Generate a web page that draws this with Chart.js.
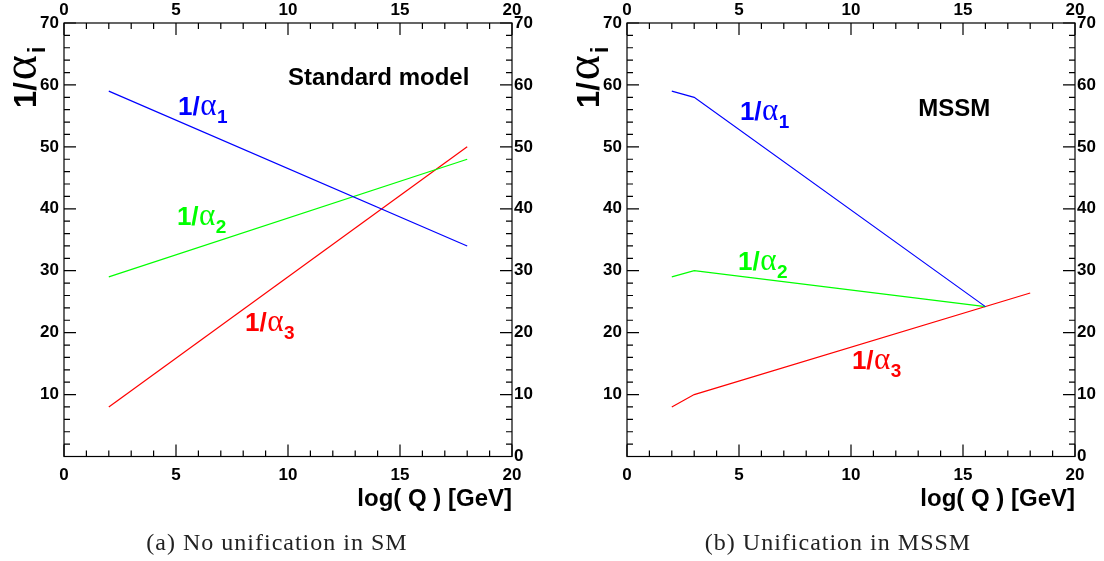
<!DOCTYPE html>
<html>
<head>
<meta charset="utf-8">
<script src="https://cdn.jsdelivr.net/npm/chart.js@4.4.1/dist/chart.umd.min.js"></script>
<style>
  html, body { margin: 0; padding: 0; background: #fff; width: 1104px; height: 561px; overflow: hidden; }
  .panel { position: absolute; top: 0; width: 552px; height: 561px; }
  canvas { display: block; }
</style>
</head>
<body>
<div class="panel" style="left:0"><canvas id="sm" width="552" height="561"></canvas></div>
<div class="panel" style="left:552px"><canvas id="mssm" width="552" height="561"></canvas></div>
<script>
// Running inverse couplings 1/alpha_i against log10(Q / GeV)

// Standard model
const smLogQ = [2, 18];
const smInvAlpha1 = [59, 34];
const smInvAlpha2 = [29, 48];
const smInvAlpha3 = [8, 50];

// MSSM (kink at the SUSY threshold, meeting near 10^16 GeV)
const mssmLogQ12 = [2, 3, 16];
const mssmInvAlpha1 = [59, 58, 24.2];
const mssmInvAlpha2 = [29, 30, 24.2];
const mssmLogQ3 = [2, 3, 18];
const mssmInvAlpha3 = [8, 10, 26.4];

// Axis ranges and tick steps
const xRange = [0, 20];
const yRange = [0, 70];
const xMajorStep = 5, xMinorStep = 1;
const yMajorStep = 10, yMinorStep = 2;

const SANS = '"Liberation Sans", Arial, sans-serif';
const GREEK = '"Liberation Serif", serif';
const CAPTION = '"Liberation Serif", serif';

const BLUE = '#0000ff', GREEN = '#00ff00', RED = '#ff0000';

function pts(xs, ys) { return xs.map((x, i) => ({ x: x, y: ys[i] })); }

function line(data, color) {
  return {
    data: data, borderColor: color, backgroundColor: color, borderWidth: 1.2,
    pointRadius: 0, tension: 0, fill: false, xAxisID: 'x', yAxisID: 'y'
  };
}

// "1/α" followed by a subscript
function invAlpha(sub, s, greekScale, subScale, subDy, gap) {
  return [
    { t: '1/', font: 'bold ' + s + 'px ' + SANS, gap: gap },
    { t: 'α', font: Math.round(s * greekScale) + 'px ' + GREEK, gap: gap },
    { t: sub, font: 'bold ' + Math.round(s * subScale) + 'px ' + SANS, dy: subDy }
  ];
}
function curveLabel(sub) { return invAlpha(sub, 26, 1.2, 0.74, 8, 0.5); }

function drawRich(ctx, x, y, parts, color) {
  ctx.save();
  ctx.fillStyle = color;
  ctx.textAlign = 'left';
  ctx.textBaseline = 'alphabetic';
  let cx = x;
  for (const p of parts) {
    ctx.font = p.font;
    ctx.fillText(p.t, cx, y + (p.dy || 0));
    cx += ctx.measureText(p.t).width + (p.gap || 0);
  }
  ctx.restore();
}

// Frame, inward ticks on all four sides, the y title, curve labels and caption
function decorPlugin(cfg) {
  return {
    id: 'decor',
    afterDraw(chart) {
      const ctx = chart.ctx;
      const { left, right, top, bottom } = chart.chartArea;
      const xs = chart.scales.x, ys = chart.scales.y;
      ctx.save();
      ctx.strokeStyle = '#000';
      ctx.lineWidth = 1.2;
      ctx.beginPath();
      for (let v = xRange[0]; v <= xRange[1]; v += xMinorStep) {
        const px = xs.getPixelForValue(v);
        const L = v % xMajorStep === 0 ? 12 : 6;
        ctx.moveTo(px, bottom); ctx.lineTo(px, bottom - L);
        ctx.moveTo(px, top); ctx.lineTo(px, top + L);
      }
      for (let v = yRange[0]; v <= yRange[1]; v += yMinorStep) {
        const py = ys.getPixelForValue(v);
        const L = v % yMajorStep === 0 ? 12 : 6;
        ctx.moveTo(left, py); ctx.lineTo(left + L, py);
        ctx.moveTo(right, py); ctx.lineTo(right - L, py);
      }
      ctx.stroke();
      ctx.strokeRect(left, top, right - left, bottom - top);
      ctx.restore();

      // rotated y title 1/α_i
      ctx.save();
      ctx.translate(left - 28, 108);
      ctx.rotate(-Math.PI / 2);
      drawRich(ctx, 0, 0, invAlpha('i', 31, 1.55, 0.74, 9, 2), '#000');
      ctx.restore();

      // curve labels and model name, anchored in data coordinates
      for (const lab of cfg.labels) {
        const px = xs.getPixelForValue(lab.x);
        const py = ys.getPixelForValue(lab.y);
        drawRich(ctx, px, py, lab.parts, lab.color);
      }

      // sub-figure caption
      ctx.save();
      ctx.fillStyle = '#222';
      ctx.font = '24px ' + CAPTION;
      ctx.textAlign = 'center';
      ctx.textBaseline = 'alphabetic';
      ctx.letterSpacing = '1px';
      ctx.fillText(cfg.caption, cfg.captionX, 550);
      ctx.restore();
    }
  };
}

function makeChart(id, datasets, cfg) {
  const tickFont = { family: SANS, size: 17, weight: 'bold' };
  const common = {
    type: 'linear',
    grid: { display: false, drawTicks: false },
    border: { display: false },
    ticks: { font: tickFont, color: '#000', autoSkip: false, maxRotation: 0 }
  };
  return new Chart(document.getElementById(id), {
    type: 'line',
    data: { datasets: datasets },
    options: {
      responsive: false,
      animation: false,
      devicePixelRatio: 1,
      layout: { padding: 0 },
      events: [],
      plugins: { legend: { display: false }, tooltip: { enabled: false } },
      scales: {
        x: Object.assign({}, common, {
          position: 'bottom', min: xRange[0], max: xRange[1],
          ticks: Object.assign({}, common.ticks, { stepSize: xMajorStep, padding: 9 }),
          title: {
            display: true, text: 'log( Q ) [GeV]', align: 'end', color: '#000',
            font: { family: SANS, size: 24, weight: 'bold' }, padding: { top: 0, bottom: 47 }
          },
          afterFit: s => { s.height = 561 - cfg.bottom; }
        }),
        x2: Object.assign({}, common, {
          position: 'top', min: xRange[0], max: xRange[1],
          ticks: Object.assign({}, common.ticks, { stepSize: xMajorStep, padding: 2.5 }),
          afterFit: s => { s.height = cfg.top; }
        }),
        y: Object.assign({}, common, {
          position: 'left', min: yRange[0], max: yRange[1],
          ticks: Object.assign({}, common.ticks, {
            stepSize: yMajorStep, padding: 5,
            callback: v => (v === 0 ? '' : String(v))
          }),
          afterFit: s => { s.width = cfg.left; }
        }),
        y2: Object.assign({}, common, {
          position: 'right', min: yRange[0], max: yRange[1],
          ticks: Object.assign({}, common.ticks, { stepSize: yMajorStep, padding: 2 }),
          afterFit: s => { s.width = 552 - cfg.right; }
        })
      }
    },
    plugins: [decorPlugin(cfg)]
  });
}

makeChart('sm', [
  line(pts(smLogQ, smInvAlpha1), BLUE),
  line(pts(smLogQ, smInvAlpha2), GREEN),
  line(pts(smLogQ, smInvAlpha3), RED)
], {
  left: 64, right: 512, top: 23, bottom: 456.5,
  caption: '(a) No unification in SM', captionX: 277,
  labels: [
    { x: 5.09, y: 55.2, parts: curveLabel('1'), color: BLUE },
    { x: 5.04, y: 37.4, parts: curveLabel('2'), color: GREEN },
    { x: 8.08, y: 20.3, parts: curveLabel('3'), color: RED },
    { x: 10.0, y: 60.0, parts: [{ t: 'Standard model', font: 'bold 24px ' + SANS }], color: '#000' }
  ]
});

makeChart('mssm', [
  line(pts(mssmLogQ12, mssmInvAlpha1), BLUE),
  line(pts(mssmLogQ12, mssmInvAlpha2), GREEN),
  line(pts(mssmLogQ3, mssmInvAlpha3), RED)
], {
  left: 75, right: 523, top: 23, bottom: 456.5,
  caption: '(b) Unification in MSSM', captionX: 286,
  labels: [
    { x: 5.04, y: 54.4, parts: curveLabel('1'), color: BLUE },
    { x: 4.96, y: 30.1, parts: curveLabel('2'), color: GREEN },
    { x: 10.04, y: 14.1, parts: curveLabel('3'), color: RED },
    { x: 13.0, y: 55.0, parts: [{ t: 'MSSM', font: 'bold 24px ' + SANS }], color: '#000' }
  ]
});
</script>
</body>
</html>
